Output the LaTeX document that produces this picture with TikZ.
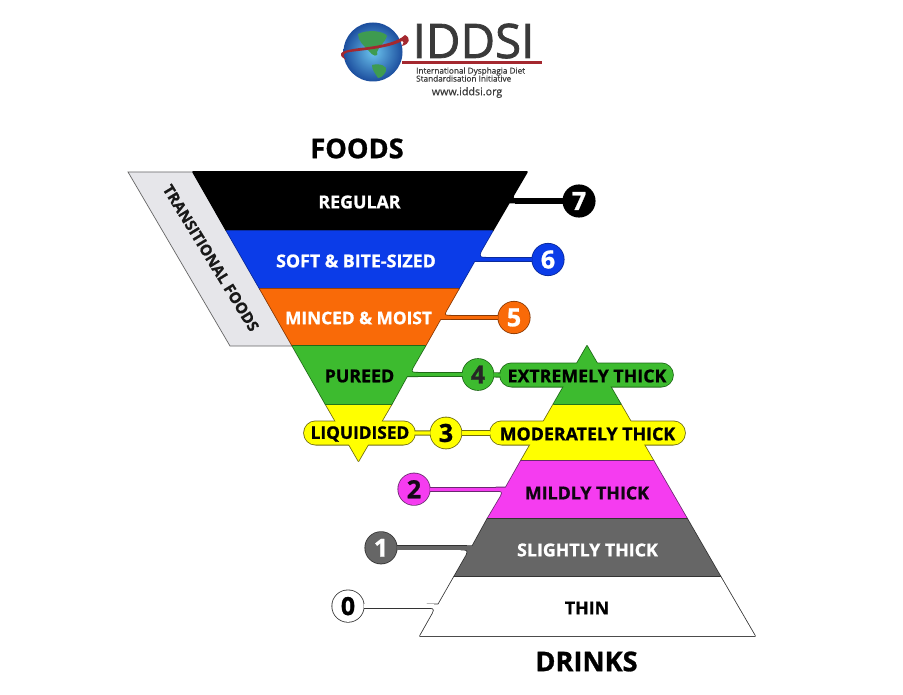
\documentclass[tikz,border=0pt]{standalone}
\usepackage{fontspec}
\setmainfont{Open Sans}[BoldFeatures={FakeBold=1.0}]
\newfontfamily\logobig{Open Sans}[FakeBold=1.6]
\newfontfamily\logosmall{Open Sans}[FakeBold=0.4]
\usetikzlibrary{shapes.misc}
\definecolor{cgreen}{HTML}{3DBB2F}
\definecolor{dgreen}{HTML}{1F6A18}
\definecolor{corange}{HTML}{F96A08}
\definecolor{dorange}{HTML}{8A3A05}
\definecolor{cblue}{HTML}{0B3CE8}
\definecolor{dblue}{HTML}{0A2A9A}
\definecolor{cyellow}{HTML}{FFFF00}
\definecolor{dyellow}{HTML}{6E6A10}
\definecolor{cmag}{HTML}{F53CF0}
\definecolor{dmag}{HTML}{6B2A70}
\definecolor{cgrey}{HTML}{666666}
\definecolor{dgrey}{HTML}{333333}
\definecolor{ctrans}{HTML}{E6E6EA}
\definecolor{cred}{HTML}{A4282F}
\definecolor{ctext}{HTML}{3A3A3A}
\definecolor{gin}{HTML}{6CC4EE}
\definecolor{gout}{HTML}{1C4E9E}
\definecolor{gland}{HTML}{3E9B50}
\newcommand{\Layer}[3]{%
  \tikzset{pass/.style={draw=#2,line width=1.6pt,fill=#2,line join=round},
           bandpass/.style={draw=#2,line width=5.2pt}}#3%
  \tikzset{pass/.style={fill=#1,draw=none},
           bandpass/.style={draw=#1,line width=3.4pt}}#3}
\newcommand{\numfont}{\fontsize{25}{25}\selectfont\bfseries}
\tikzset{
  num/.style={pass,circle,minimum size=31.5pt,inner sep=0pt,outer sep=0pt,font=\numfont},
  pill/.style={pass,rounded rectangle,minimum height=23.4pt,inner sep=0pt,outer sep=0pt},
  lab/.style={inner sep=0pt,font=\fontsize{17.8}{18}\selectfont\bfseries},
  labsmall/.style={inner sep=0pt,font=\fontsize{17.3}{18}\selectfont\bfseries},
  digit/.style={inner sep=0pt,font=\numfont},
  head/.style={inner sep=0pt,font=\fontsize{27.2}{27}\selectfont\bfseries}
}
\begin{document}
\begin{tikzpicture}[x=1pt,y=-1pt]
\useasboundingbox (0,0) rectangle (903,695);
\fill[white] (0,0) rectangle (903,695);

% logo
\shade[inner color=gin,outer color=gout,shading=radial] (373,52) circle (29.5);
\fill[gland] (358,34) .. controls (368,29) and (384,31) .. (387,36) .. controls (384,44) and (379,46) .. (377,52) .. controls (379,58) and (372,56) .. (369,51) .. controls (364,46) and (358,41) .. (358,34) -- cycle;
\fill[gland] (372,65) .. controls (380,63) and (388,66) .. (386,71) .. controls (384,76) and (380,78) .. (378,78) .. controls (375,73) and (372,70) .. (372,65) -- cycle;
\fill[cred] (342,57) .. controls (338,52) and (345,50) .. (360,48) .. controls (380,46) and (398,42) .. (405,35) .. controls (411,38) and (410,44) .. (402,46) .. controls (404,42) and (404,41) .. (402,41) .. controls (390,48) and (365,50) .. (350,52) .. controls (343,53) and (342,55) .. (346,60) -- cycle;
\node[inner sep=0pt,text=ctext,font=\logobig\fontsize{47.5}{47}\selectfont] (logoname) at (473.5,41) {IDDSI};
\fill[cred] (402,60.8) rectangle (542,63.6);
\node[inner sep=0pt,text=ctext,anchor=west,font=\logosmall\fontsize{8.2}{8}\selectfont] (logoa) at (416,71.5) {International Dysphagia Diet};
\node[inner sep=0pt,text=ctext,anchor=west,font=\logosmall\fontsize{8.2}{8}\selectfont] (logob) at (416,78.5) {Standardisation Initiative};
\node[inner sep=0pt,text=ctext,font=\logosmall\fontsize{10.7}{10.7}\selectfont] (logoc) at (467,92.5) {www.iddsi.org};

\node[head,text=black] (foods) at (357,148.5) {FOODS};
\node[head,text=black] (drinks) at (586.5,661.5) {DRINKS};

% transitional foods
\draw[fill=ctrans,draw=black!60,line width=.7pt] (128,172) -- (193,172) -- (292.5,346) -- (230,346) -- cycle;
\node[rotate=-58.5,inner sep=0pt,text=black!90,font=\fontsize{15.2}{15}\selectfont\bfseries] (trans) at (211,258) {TRANSITIONAL FOODS};

% level 7
\Layer{black}{black}{
  \path[pass] (193,172) -- (527,172) -- (513.5,195) .. controls (511,199.3) and (515,199.3) .. (519,199.3) -- (519,202.7) -- (509,202.7) -- (492.5,231) -- (226.7,231) -- cycle;
  \node[num,text=white] (n7) at (579,201) {7};
  \coordinate (t7) at (515,201);
  \draw[bandpass] (t7) -- (n7);
}
% level 6
\Layer{cblue}{dblue}{
  \path[pass] (226.7,231) -- (492.5,231) -- (481,251) .. controls (478,257.8) and (481,257.8) .. (486,257.8) -- (486,261.2) -- (474.4,261.2) -- (458.6,289) -- (260,289) -- cycle;
  \node[num,text=white] (n6) at (548,259.5) {6};
  \coordinate (t6) at (482,259.5);
  \draw[bandpass] (t6) -- (n6);
}
% level 5
\Layer{corange}{dorange}{
  \path[pass] (260,289) -- (458.6,289) -- (446,311) .. controls (443,315.8) and (446,315.8) .. (451,315.8) -- (451,319.2) -- (440.4,319.2) -- (425.2,346) -- (292.5,346) -- cycle;
  \node[num,text=white] (n5) at (514,317.5) {5};
  \coordinate (t5) at (446,317.5);
  \draw[bandpass] (t5) -- (n5);
}
% level 3
\Layer{cyellow}{dyellow}{
  \path[pass] (325.5,404) -- (391.7,404) -- (358.5,461) -- cycle;
  \path[pass] (553.6,404) -- (620.6,404) -- (653.6,461) -- (520.8,461) -- cycle;
  \node[pill,minimum width=111pt] (liq) at (359.5,433) {};
  \node[pill,minimum width=195pt] (mod) at (587.5,433) {};
  \node[num,minimum size=31pt] (n3) at (446,433) {};
  \draw[bandpass] (liq) -- (n3);
  \draw[bandpass] (n3) -- (mod);
}
% level 4
\Layer{cgreen}{dgreen}{
  \path[pass] (292.5,346) -- (425.2,346) -- (412.5,368) .. controls (410,372.8) and (413,372.8) .. (418,372.8) -- (418,376.2) -- (407,376.2) -- (391.7,404) -- (325.5,404) -- cycle;
  \path[pass] (587,346) -- (620.6,404) -- (553.6,404) -- cycle;
  \node[pill,minimum width=173pt] (ext) at (586.5,375) {};
  \node[num,minimum size=31pt] (n4) at (478,374.5) {};
  \coordinate (t4) at (414,374.5);
  \draw[bandpass] (t4) -- (n4);
  \draw[bandpass] (n4) -- (ext.west);
}
% level 2
\Layer{cmag}{dmag}{
  \path[pass] (520.8,461) -- (653.6,461) -- (687.2,519) -- (487.3,519) -- (501,496) .. controls (503.5,490.9) and (501,490.9) .. (496,490.9) -- (496,487.5) -- (505.8,487.5) -- cycle;
  \node[num] (n2) at (414,489.2) {};
  \coordinate (t2) at (500,489.2);
  \draw[bandpass] (t2) -- (n2);
}
% level 1
\Layer{cgrey}{dgrey}{
  \path[pass] (487.3,519) -- (687.2,519) -- (720.7,577) -- (454,577) -- (466.6,555) .. controls (469,549.5) and (466,549.5) .. (461,549.5) -- (461,546.1) -- (472.4,546.1) -- cycle;
  \node[num] (n1) at (381,547.8) {};
  \coordinate (t1) at (467,547.8);
  \draw[bandpass] (t1) -- (n1);
}
% level 0
\Layer{white}{dgrey}{
  \path[pass] (454,577) -- (720.7,577) -- (755,636) -- (420,636) -- (433,613) .. controls (435.5,607.8) and (432,607.8) .. (427,607.8) -- (427,604.4) -- (438.4,604.4) -- cycle;
  \node[num] (n0) at (348,606.1) {};
  \coordinate (t0) at (434,606.1);
  \draw[bandpass] (t0) -- (n0);
}

% labels
\node[lab,text=white] (l7) at (359.5,202) {REGULAR};
\node[lab,text=white] (l6) at (356,261) {SOFT \& BITE-SIZED};
\node[labsmall,text=white] (l5) at (358.5,318) {MINCED \& MOIST};
\node[lab,text=black] (l4) at (359.5,376) {PUREED};
\node[labsmall,text=black] (l3) at (360,434) {LIQUIDISED};
\node[lab,text=black] (r4) at (587,376) {EXTREMELY THICK};
\node[lab,text=black] (r3) at (587.5,434) {MODERATELY THICK};
\node[lab,text=black!85!dmag] (r2) at (587,493) {MILDLY THICK};
\node[lab,text=white] (r1) at (587.5,550) {SLIGHTLY THICK};
\node[lab,text=black] (r0) at (587,608) {THIN};
\node[digit,text=black!85] (d4) at (n4) {4};
\node[digit,text=black] (d3) at (n3) {3};
\node[digit,text=black!80!dmag] (d2) at (n2) {2};
\node[digit,text=white] (d1) at (n1) {1};
\node[digit,text=black] (d0) at (n0) {0};
\end{tikzpicture}
\end{document}
